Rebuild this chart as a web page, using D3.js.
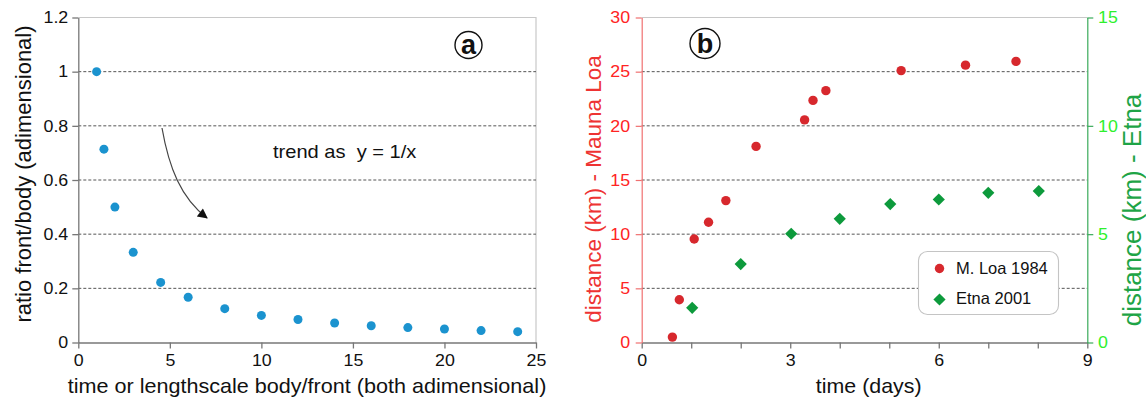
<!DOCTYPE html>
<html>
<head>
<meta charset="utf-8">
<script src="https://cdn.jsdelivr.net/npm/d3@7"></script>
<style>
  html, body { margin: 0; padding: 0; background: #fff; }
  svg { display: block; font-family: "Liberation Sans", Arial, sans-serif; }
</style>
</head>
<body>
<svg id="chart" width="1146" height="402"></svg>
<script>
// Panel (a): front/body ratio against dimensionless time
const ratioX = [1, 1.4, 2, 3, 4.5, 6, 8, 10, 12, 14, 16, 18, 20, 22, 24];
const ratioY = [1, 0.714, 0.5, 0.333, 0.222, 0.167, 0.125, 0.1, 0.085, 0.072, 0.062, 0.055, 0.05, 0.044, 0.04];
const aXTicks = [0, 5, 10, 15, 20, 25];
const aYTicks = [0, 0.2, 0.4, 0.6, 0.8, 1, 1.2];

// Panel (b): flow-front distance over time
const loaDays = [0.62, 0.76, 1.06, 1.35, 1.7, 2.31, 3.29, 3.46, 3.72, 5.24, 6.54, 7.56];
const loaKm   = [0.5, 3.95, 9.55, 11.1, 13.1, 18.1, 20.55, 22.35, 23.25, 25.1, 25.6, 25.95];
const etnaDays = [1.02, 2, 3.02, 4, 5.02, 6, 7, 8.02];
const etnaKm   = [1.6, 3.62, 5.02, 5.71, 6.39, 6.6, 6.91, 6.99];
const bXTicks = [0, 1, 2, 3, 4, 5, 6, 7, 8, 9];
const bXLabels = [0, 3, 6, 9];
const bYLeftTicks = [0, 5, 10, 15, 20, 25, 30];
const bYRightTicks = [0, 5, 10, 15];
const legendLabels = ["M. Loa 1984", "Etna 2001"];

const svg = d3.select("#chart");
const plotTop = 17.5, plotBottom = 342.5;
const WIDEN = 1.08;   // glyphs are drawn slightly wide

const C = {
  blue: "#1b93cf",
  red: "#d7282d",
  green: "#0d9a3c",
  redText: "#ff2424",
  redTitle: "#ee3333",
  greenText: "#2ef02e",
  greenTitle: "#1ea446",
  axis: "#777",
  frame: "#c8c8c8",
  grid: "#555"
};

function fmt(v) { return String(v); }

// horizontal text, widened
function hText(g, x, y, str, size, fill, anchor, widen) {
  return g.append("text")
    .attr("transform", `translate(${x},${y}) scale(${widen || WIDEN},1)`)
    .attr("text-anchor", anchor || "start")
    .style("font-size", size + "px").attr("fill", fill || "#111")
    .attr("xml:space", "preserve").text(str);
}
// vertical (rotated) axis title
function vText(g, x, y, str, size, fill) {
  return g.append("text").attr("transform", `translate(${x},${y}) rotate(-90)`)
    .attr("text-anchor", "middle").style("font-size", size + "px").attr("fill", fill)
    .text(str);
}
function styleTicks(g, color) {
  g.selectAll(".tick text").attr("fill", color).style("font-size", "16.5px")
    .style("font-family", "Liberation Sans, Arial, sans-serif")
    .attr("transform", `scale(${WIDEN},1)`);
}

// ---------- panel (a) ----------
const ax = d3.scaleLinear().domain([0, 25]).range([78.3, 536]);
const ay = d3.scaleLinear().domain([0, 1.2]).range([plotBottom, plotTop]);
const ga = svg.append("g");

// frame (top, right)
ga.append("path").attr("d", `M${ax(0)},${ay(1.2)}H${ax(25)}V${ay(0)}`)
  .attr("fill", "none").attr("stroke", C.frame).attr("stroke-width", 1.2);

// dashed grid
ga.selectAll("line.grid").data(aYTicks.filter(v => v > 0 && v < 1.2)).join("line")
  .attr("x1", ax(0)).attr("x2", ax(25))
  .attr("y1", d => ay(d)).attr("y2", d => ay(d))
  .attr("stroke", C.grid).attr("stroke-width", 1).attr("stroke-dasharray", "3,2");

const axA = ga.append("g").attr("transform", `translate(0,${ay(0)})`)
  .call(d3.axisBottom(ax).tickValues(aXTicks).tickFormat(fmt).tickSize(6).tickSizeOuter(0).tickPadding(6));
const ayA = ga.append("g").attr("transform", `translate(${ax(0)},0)`)
  .call(d3.axisLeft(ay).tickValues(aYTicks).tickFormat(fmt).tickSize(6).tickSizeOuter(0).tickPadding(3.3));
[axA, ayA].forEach(g => {
  g.select(".domain").attr("stroke", C.axis).attr("stroke-width", 1.3);
  g.selectAll(".tick line").attr("stroke", C.axis).attr("stroke-width", 1.3);
  styleTicks(g, "#111");
});

ga.selectAll("circle.pt").data(ratioX).join("circle")
  .attr("cx", d => ax(d)).attr("cy", (d, i) => ay(ratioY[i]))
  .attr("r", 4.5).attr("fill", C.blue);

// trend arrow
svg.append("defs").append("marker")
  .attr("id", "arrowhead").attr("viewBox", "0 0 10 10")
  .attr("refX", 9).attr("refY", 5).attr("markerWidth", 12).attr("markerHeight", 10)
  .attr("markerUnits", "userSpaceOnUse").attr("orient", "auto")
  .append("path").attr("d", "M0,0L10,5L0,10z").attr("fill", "#111");
ga.append("path")
  .attr("d", "M162,128 C169,168 181,198 207,218")
  .attr("fill", "none").attr("stroke", "#444").attr("stroke-width", 1.2)
  .attr("marker-end", "url(#arrowhead)");

hText(ga, 273, 158, "trend as  y = 1/x", 18.6);

vText(ga, 31, 174, "ratio front/body (adimensional)", 22, "#111");
hText(ga, 307, 393, "time or lengthscale body/front (both adimensional)", 20, "#111", "middle");

function badge(cx, cy, r, letter) {
  const g = svg.append("g");
  g.append("circle").attr("cx", cx).attr("cy", cy).attr("r", r)
    .attr("fill", "none").attr("stroke", "#111").attr("stroke-width", 1.4);
  g.append("text").attr("x", cx).attr("y", cy + 9)
    .attr("text-anchor", "middle").style("font-size", "27px").style("font-weight", "bold")
    .attr("fill", "#111").text(letter);
}
badge(468.5, 45, 13.5, "a");

// ---------- panel (b) ----------
const bx = d3.scaleLinear().domain([0, 9]).range([641.7, 1087.3]);
const byL = d3.scaleLinear().domain([0, 30]).range([plotBottom, plotTop]);
const byR = d3.scaleLinear().domain([0, 15]).range([plotBottom, plotTop]);
const gb = svg.append("g");

gb.append("line").attr("x1", bx(0)).attr("x2", bx(9)).attr("y1", byL(30)).attr("y2", byL(30))
  .attr("stroke", C.frame).attr("stroke-width", 1.2);

gb.selectAll("line.grid").data(bYLeftTicks.filter(v => v > 0 && v < 30)).join("line")
  .attr("x1", bx(0)).attr("x2", bx(9))
  .attr("y1", d => byL(d)).attr("y2", d => byL(d))
  .attr("stroke", C.grid).attr("stroke-width", 1).attr("stroke-dasharray", "3,2");

const bxA = gb.append("g").attr("transform", `translate(0,${byL(0)})`)
  .call(d3.axisBottom(bx).tickValues(bXTicks)
    .tickFormat(d => bXLabels.includes(d) ? fmt(d) : "")
    .tickSize(6).tickSizeOuter(0).tickPadding(6));
bxA.select(".domain").attr("stroke", C.axis).attr("stroke-width", 1.3);
bxA.selectAll(".tick line").attr("stroke", C.axis).attr("stroke-width", 1.3);
styleTicks(bxA, "#111");

const blA = gb.append("g").attr("transform", `translate(${bx(0)},0)`)
  .call(d3.axisLeft(byL).tickValues(bYLeftTicks).tickFormat(fmt).tickSize(6).tickSizeOuter(0).tickPadding(4.8));
blA.select(".domain").attr("stroke", "#f07070").attr("stroke-width", 1.2);
blA.selectAll(".tick line").attr("stroke", "#f07070").attr("stroke-width", 1.2);
styleTicks(blA, C.redText);

const brA = gb.append("g").attr("transform", `translate(${bx(9)},0)`)
  .call(d3.axisRight(byR).tickValues(bYRightTicks).tickFormat(fmt).tickSize(6).tickSizeOuter(0).tickPadding(4));
brA.select(".domain").attr("stroke", "#3aaa5a").attr("stroke-width", 1.2);
brA.selectAll(".tick line").attr("stroke", "#3aaa5a").attr("stroke-width", 1.2);
styleTicks(brA, C.greenText);

gb.selectAll("circle.loa").data(loaDays).join("circle")
  .attr("cx", d => bx(d)).attr("cy", (d, i) => byL(loaKm[i]))
  .attr("r", 4.7).attr("fill", C.red);

const diamond = d3.symbol().type(d3.symbolDiamond2).size(95);
gb.selectAll("path.etna").data(etnaDays).join("path")
  .attr("d", diamond)
  .attr("transform", (d, i) => `translate(${bx(d)},${byR(etnaKm[i])})`)
  .attr("fill", C.green);

// legend
const lg = gb.append("g");
lg.append("rect").attr("x", 918.5).attr("y", 251.5).attr("width", 140).attr("height", 63)
  .attr("rx", 9).attr("fill", "#fff").attr("stroke", "#c4c4c4").attr("stroke-width", 1.1);
lg.append("circle").attr("cx", 939.5).attr("cy", 268.5).attr("r", 4.7).attr("fill", C.red);
lg.append("path").attr("d", diamond).attr("transform", "translate(939.5,299.5)").attr("fill", C.green);
legendLabels.forEach((d, i) => hText(lg, 956, 274 + i * 30, d, 16.5, "#111", "start", 1));

vText(gb, 601, 189, "distance (km) - Mauna Loa", 22.5, C.redTitle);
vText(gb, 1141, 210, "distance (km) - Etna", 26, C.greenTitle);
hText(gb, 868.7, 393, "time (days)", 19.8, "#111", "middle");

badge(705, 43.5, 15, "b");
</script>
</body>
</html>
